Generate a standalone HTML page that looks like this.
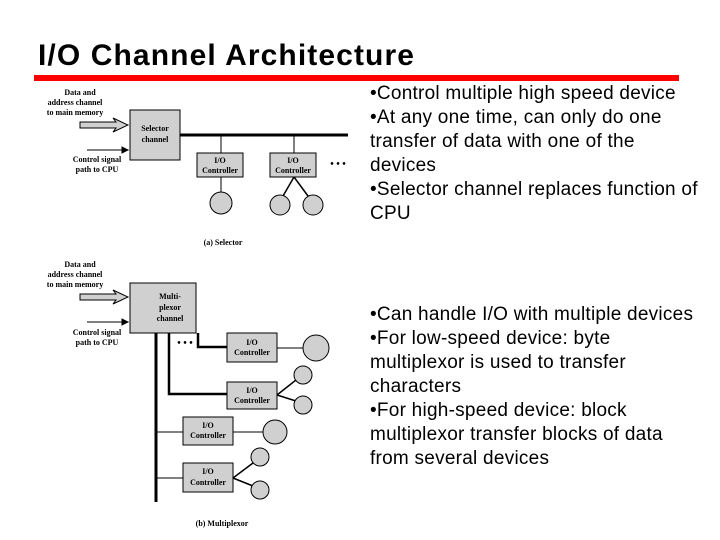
<!DOCTYPE html>
<html><head><meta charset="utf-8"><style>
html,body{margin:0;padding:0;background:#fff;}
body{width:720px;height:540px;position:relative;overflow:hidden;font-family:"Liberation Sans",sans-serif;}
.t{position:absolute;left:370px;font-size:19px;letter-spacing:0.25px;line-height:24px;color:#000;white-space:nowrap;}
</style></head><body>
<div style="position:absolute;left:38px;top:41px;font-size:30px;line-height:30px;font-weight:bold;letter-spacing:1.1px;">I/O Channel Architecture</div>
<div style="position:absolute;left:34px;top:75px;width:645px;height:6px;background:#f00;"></div>
<div class="t" style="top:82px;">•Control multiple high speed device<br>•At any one time, can only do one<br>transfer of data with one of the<br>devices<br>•Selector channel replaces function of<br>CPU</div>
<div class="t" style="top:303px;">•Can handle I/O with multiple devices<br>•For low-speed device: byte<br>multiplexor is used to transfer<br>characters<br>•For high-speed device: block<br>multiplexor transfer blocks of data<br>from several devices</div>
<svg width="720" height="540" style="position:absolute;left:0;top:0" font-family="Liberation Serif,serif" font-weight="bold" font-size="8">
<g stroke="#000" fill="#d0d0d0">
<polygon points="80,122 116,122 113,118 128,125 113,132 116,128 80,128" stroke-width="1"/>
<line x1="87" y1="150" x2="124" y2="150" stroke-width="1"/>
<polygon points="128,150 122,147 122,153" fill="#000"/>
<rect x="130" y="110" width="50" height="50" stroke-width="1"/>
<line x1="180" y1="135" x2="348" y2="135" stroke-width="3"/>
<line x1="221" y1="135" x2="221" y2="153" stroke-width="1"/>
<line x1="294" y1="135" x2="294" y2="153" stroke-width="1"/>
<rect x="197" y="153" width="46" height="24" stroke-width="1"/>
<rect x="270" y="153" width="46" height="24" stroke-width="1"/>
<line x1="221" y1="177" x2="221" y2="192" stroke-width="1"/>
<circle cx="221" cy="203" r="11" stroke-width="1"/>
<line x1="294" y1="177" x2="283" y2="196" stroke-width="1.5"/>
<line x1="294" y1="177" x2="308" y2="196" stroke-width="1.5"/>
<circle cx="280" cy="205" r="10" stroke-width="1"/>
<circle cx="313" cy="205" r="10" stroke-width="1"/>
<polygon points="80,294 116,294 113,290 128,297 113,304 116,300 80,300" stroke-width="1"/>
<line x1="87" y1="322" x2="124" y2="322" stroke-width="1"/>
<polygon points="128,322 122,319 122,325" fill="#000"/>
<rect x="130" y="283" width="66" height="50" stroke-width="1"/>
<line x1="156" y1="333" x2="156" y2="502" stroke-width="3"/>
<polyline points="198,333 198,347 227,347" fill="none" stroke-width="2.5"/>
<polyline points="169,333 169,394 227,394" fill="none" stroke-width="2.5"/>
<rect x="227" y="333" width="50" height="29" stroke-width="1"/>
<line x1="277" y1="348" x2="303" y2="348" stroke-width="1"/>
<circle cx="316" cy="348" r="13" stroke-width="1"/>
<rect x="227" y="382" width="50" height="27" stroke-width="1"/>
<line x1="277" y1="395" x2="296" y2="380" stroke-width="1.5"/>
<line x1="277" y1="395" x2="296" y2="401" stroke-width="1.5"/>
<circle cx="303" cy="375" r="9" stroke-width="1"/>
<circle cx="303" cy="405" r="9" stroke-width="1"/>
<line x1="156" y1="432" x2="183" y2="432" stroke-width="1"/>
<rect x="183" y="417" width="50" height="28" stroke-width="1"/>
<line x1="233" y1="432" x2="263" y2="432" stroke-width="1"/>
<circle cx="275" cy="432" r="12" stroke-width="1"/>
<line x1="156" y1="478" x2="183" y2="478" stroke-width="1"/>
<rect x="183" y="463" width="50" height="29" stroke-width="1"/>
<line x1="233" y1="478" x2="253" y2="463" stroke-width="1.5"/>
<line x1="233" y1="478" x2="253" y2="486" stroke-width="1.5"/>
<circle cx="260" cy="457" r="9" stroke-width="1"/>
<circle cx="260" cy="490" r="9" stroke-width="1"/>
</g>
<g fill="#000" text-anchor="middle">
<text x="80" y="95">Data and</text>
<text x="75" y="105">address channel</text>
<text x="75" y="115">to main memory</text>
<text x="155" y="131">Selector</text>
<text x="155" y="142">channel</text>
<text x="97" y="162">Control signal</text>
<text x="97" y="172">path to CPU</text>
<text x="220" y="163">I/O</text>
<text x="220" y="173">Controller</text>
<text x="293" y="163">I/O</text>
<text x="293" y="173">Controller</text>
<text x="338" y="167" font-size="10">• • •</text>
<text x="223" y="245">(a) Selector</text>
<text x="80" y="267">Data and</text>
<text x="75" y="277">address channel</text>
<text x="75" y="287">to main memory</text>
<text x="170" y="299">Multi-</text>
<text x="170" y="310">plexor</text>
<text x="170" y="321">channel</text>
<text x="97" y="335">Control signal</text>
<text x="97" y="345">path to CPU</text>
<text x="185" y="346" font-size="10">• • •</text>
<text x="252" y="345">I/O</text>
<text x="252" y="355">Controller</text>
<text x="252" y="393">I/O</text>
<text x="252" y="403">Controller</text>
<text x="208" y="428">I/O</text>
<text x="208" y="438">Controller</text>
<text x="208" y="474">I/O</text>
<text x="208" y="485">Controller</text>
<text x="222" y="526">(b) Multiplexor</text>
</g>
</svg>
</body></html>
